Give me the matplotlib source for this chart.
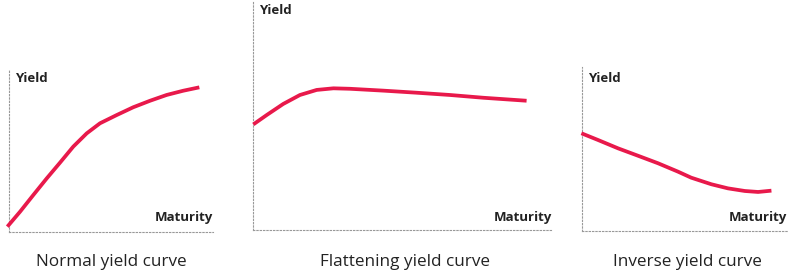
import matplotlib
matplotlib.use("Agg")
import matplotlib.pyplot as plt

plt.rcParams['font.family'] = ['Open Sans', 'DejaVu Sans']

titles = ["Normal yield curve", "Flattening yield curve", "Inverse yield curve"]
y_label = "Yield"
x_label = "Maturity"

normal_x = [-0.8, 5.4, 11.9, 18.5, 25.0, 31.5, 38.1, 44.6, 52.8, 60.9, 69.1, 77.3, 85.4, 93.3]
normal_y = [3.3, 12.5, 22.8, 33.1, 42.8, 52.7, 60.9, 67.1, 72.2, 77.0, 81.0, 84.6, 87.2, 89.3]

flat_x = [0.1, 4.6, 10.1, 15.7, 21.3, 26.9, 32.4, 43.5, 54.6, 65.9, 77.0, 91.5]
flat_y = [45.9, 50.0, 54.8, 58.7, 60.9, 61.6, 61.4, 60.6, 59.7, 58.7, 57.5, 56.2]

inverse_x = [-0.3, 7.8, 17.6, 27.3, 37.1, 46.8, 53.3, 63.1, 71.2, 79.4, 85.9, 92.4]
inverse_y = [59.6, 55.5, 50.4, 45.9, 41.3, 36.2, 32.5, 28.5, 26.0, 24.4, 23.8, 24.6]

series = [(normal_x, normal_y), (flat_x, flat_y), (inverse_x, inverse_y)]

W, H = 800, 280
fig = plt.figure(figsize=(W / 100, H / 100), dpi=100)
fig.patch.set_facecolor("white")

# boxes in pixels: left, right, top, bottom
boxes = [(9, 213, 70, 232), (253, 552, 0, 230), (582, 787, 67, 231)]
yield_y = [78, 10, 78]
title_cx = [111, 405, 687]

red = "#E8194B"
txt = "#222222"
grid = "#999999"

for (l, r, t, b), (xs, ys), title, cx, yy in zip(boxes, series, titles, title_cx, yield_y):
    ax = fig.add_axes([l / W, 1 - b / H, (r - l) / W, (b - t) / H])
    ax.set_xlim(0, 100)
    ax.set_ylim(0, 100)
    ax.set_facecolor("none")
    for s in ["top", "right"]:
        ax.spines[s].set_visible(False)
    for s in ["left", "bottom"]:
        ax.spines[s].set_color(grid)
        ax.spines[s].set_linestyle((0, (1.2, 1.8)))
        ax.spines[s].set_linewidth(0.8)
    ax.set_xticks([])
    ax.set_yticks([])
    ax.plot(xs, ys, color=red, lw=2.7, solid_capstyle="butt",
            solid_joinstyle="round", clip_on=False, zorder=3)
    fig.text((l + 6) / W, 1 - yy / H, y_label, fontsize=9.5,
             fontweight="bold", color=txt, ha="left", va="center")
    fig.text(r / W, 1 - 218 / H, x_label, fontsize=9.5,
             fontweight="bold", color=txt, ha="right", va="center")
    fig.text(cx / W, 1 - 262 / H, title, fontsize=12.3, color=txt,
             ha="center", va="center")

fig.savefig("out.png", dpi=100, facecolor="white")
